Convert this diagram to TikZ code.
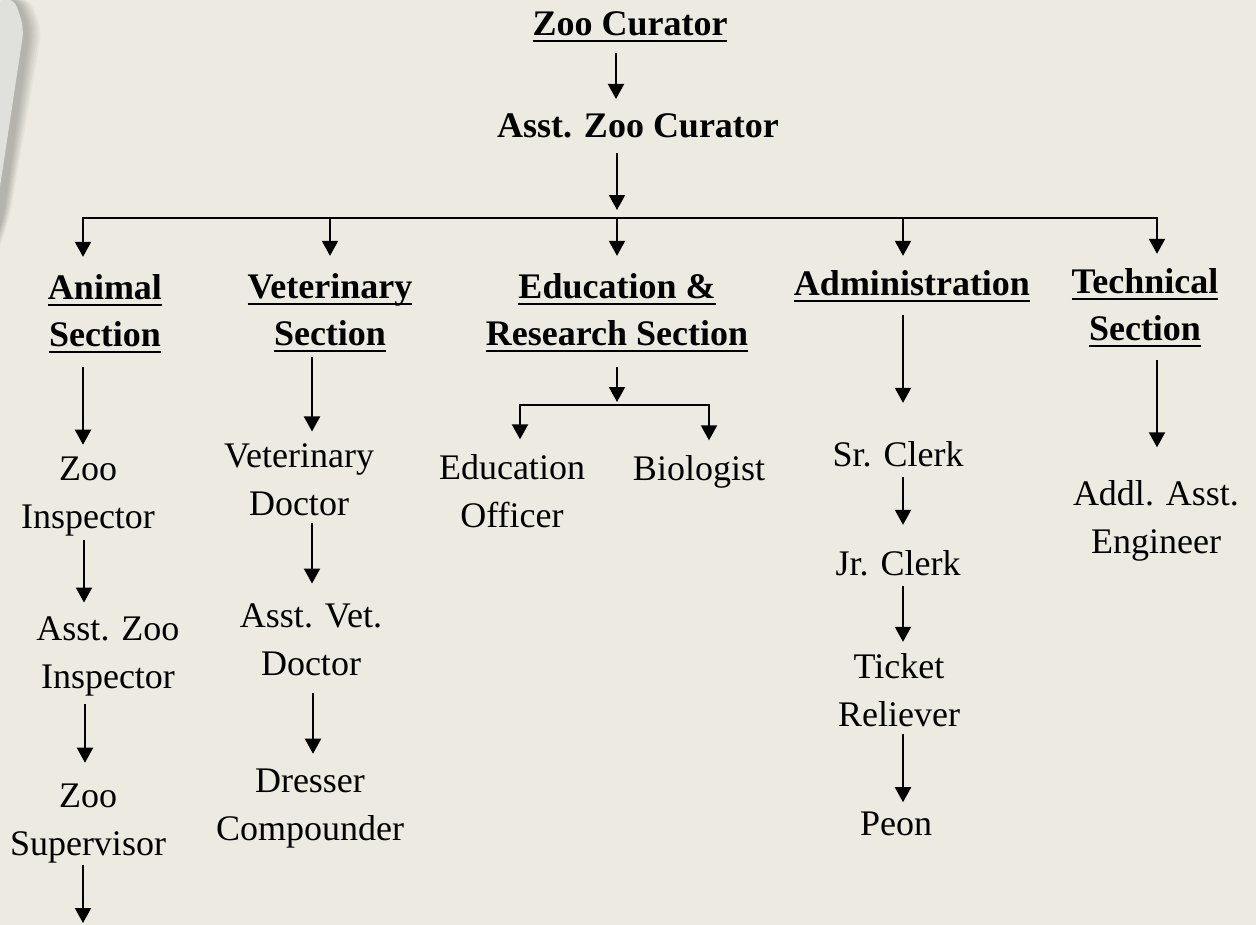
\documentclass[tikz,border=0pt]{standalone}
\usepackage{fontspec}
\setmainfont{Liberation Serif}
\usetikzlibrary{arrows.meta}
\definecolor{bgcol}{RGB}{237,235,225}
\definecolor{pagecol}{RGB}{224,224,221}
\newcommand{\undl}[1]{\setbox0\hbox{#1}\rlap{\rule[-6.5pt]{\wd0}{2pt}}\box0}

\begin{document}
\begin{tikzpicture}[x=1pt,y=-1pt]
	\tikzstyle{txt1} = [inner sep=0pt, anchor=base, align=center,
	font=\fontsize{36}{47.5}\selectfont\bfseries]
	\tikzstyle{txt2} = [inner sep=0pt, anchor=base, align=center,
	font=\fontsize{36}{47.5}\selectfont]
	\tikzstyle{arr} = [-{Triangle[width=16pt,length=15pt]}, line width=2pt]
	\useasboundingbox (0,0) rectangle (1256,924);
	\fill[bgcol] (-6,-6) rectangle (1262,930);
	% page edge in the corner
	\foreach \d in {0,1,...,6}
		\fill[black, opacity=0.035, rounded corners=12pt] (-2,-2) -- (18+2*\d,-2) -- (30+2*\d,30) -- (4+\d,215) -- (-2,235+3*\d) -- cycle;
	\fill[pagecol, rounded corners=10pt] (-2,-2) -- (14,-2) -- (24,28) -- (-2,200) -- cycle;
	\node (node1) [txt1] at (630,35) {\undl{Zoo Curator}};
	\node (node2) [txt1] at (638,137) {Asst. Zoo Curator};
	\node (node3) [txt1] at (105,346.5) {\undl{Animal}\\\undl{Section}};
	\node (node4) [txt1] at (330,345.5) {\undl{Veterinary}\\\undl{Section}};
	\node (node5) [txt1] at (617,345.5) {\undl{Education \&}\\\undl{Research Section}};
	\node (node6) [txt1] at (912,295) {\undl{Administration}};
	\node (node7) [txt1] at (1145,340.5) {\undl{Technical}\\\undl{Section}};
	\node (node8) [txt2] at (88,528) {Zoo\\Inspector};
	\node (node9) [txt2] at (108,688) {Asst. Zoo\\Inspector};
	\node (node10) [txt2] at (88,855) {Zoo\\Supervisor};
	\node (node11) [txt2] at (299,515) {Veterinary\\Doctor};
	\node (node12) [txt2] at (311,675) {Asst. Vet.\\Doctor};
	\node (node13) [txt2] at (310,840) {Dresser\\Compounder};
	\node (node14) [txt2] at (512,527) {Education\\Officer};
	\node (node15) [txt2] at (699,480) {Biologist};
	\node (node16) [txt2] at (898,466) {Sr. Clerk};
	\node (node17) [txt2] at (898,575) {Jr. Clerk};
	\node (node18) [txt2] at (899,726) {Ticket\\Reliever};
	\node (node19) [txt2] at (896,835) {Peon};
	\node (node20) [txt2] at (1156,553) {Addl. Asst.\\Engineer};
	\coordinate (bus) at (617,218);
	\coordinate (split) at (617,405);
	\coordinate (end1) at (83,924);
	\draw[arr, shorten <=11pt, shorten >=14pt] (node1.south -| 616,0) -- (node2.north -| 616,0);
	\draw[arr, shorten <=15pt, shorten >=8pt] (node2.south -| 617,0) -- (bus);
	\draw[arr, shorten >=17pt] (bus) -| (node3.north -| 83,0);
	\draw[arr, shorten >=17pt] (bus) -| (node4.north -| 330,0);
	\draw[arr, shorten >=17pt] (bus) -- (node5.north -| 617,0);
	\draw[arr, shorten >=14pt] (bus) -| (node6.north -| 903,0);
	\draw[arr, shorten >=14pt] (bus) -| (node7.north -| 1157,0);
	% animal section
	\draw[arr, shorten <=14pt, shorten >=12pt] (node3.south -| 83,0) -- (node8.north -| 83,0);
	\draw[arr, shorten <=4pt, shorten >=14pt] (node8.south -| 84,0) -- (node9.north -| 84,0);
	\draw[arr, shorten <=8pt, shorten >=21pt] (node9.south -| 85,0) -- (node10.north -| 85,0);
	\draw[arr, shorten <=2pt, shorten >=1pt] (node10.south -| 83,0) -- (end1);
	% veterinary section
	\draw[arr, shorten <=5pt, shorten >=12pt] (node4.south -| 312,0) -- (node11.north -| 312,0);
	\draw[arr, shorten <=7.5pt, shorten >=20pt] (node11.south -| 312,0) -- (node12.north -| 312,0);
	\draw[arr, shorten <=17.5pt, shorten >=15pt] (node12.south -| 313,0) -- (node13.north -| 313,0);
	% education
	\draw[arr, shorten <=15pt, shorten >=3pt] (node5.south -| 617,0) -- (split);
	\draw[arr, shorten >=15pt] (split) -| (node14.north -| 520,0);
	\draw[arr, shorten >=14.5pt] (split) -| (node15.north -| 709,0);
	% administration
	\draw[arr, shorten <=13pt, shorten >=38pt] (node6.south -| 903,0) -- (node16.north -| 903,0);
	\draw[arr, shorten <=10.5pt, shorten >=25pt] (node16.south -| 903,0) -- (node17.north -| 903,0);
	\draw[arr, shorten <=10.5pt, shorten >=11.5pt] (node17.south -| 903,0) -- (node18.north -| 903,0);
	\draw[arr, shorten <=7.5pt, shorten >=9pt] (node18.south -| 903,0) -- (node19.north -| 903,0);
	% technical
	\draw[arr, shorten <=13pt, shorten >=33pt] (node7.south -| 1157,0) -- (node20.north -| 1157,0);
\end{tikzpicture}
\end{document}
